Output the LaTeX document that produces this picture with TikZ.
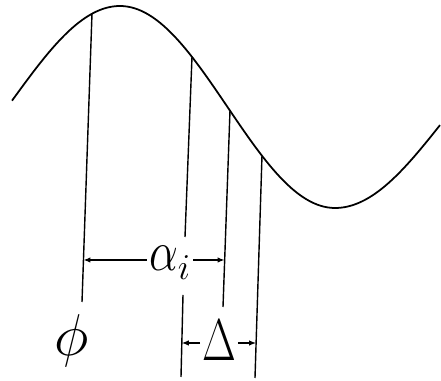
\documentclass[tikz,border=0pt]{standalone}
\usepackage{amsmath,amssymb}
\usepackage{graphicx}
\usepackage{tikz}
\usetikzlibrary{arrows.meta,positioning}
\tikzset{
  wave/.style={line width=1pt,black,samples=60},
  ext/.style={line width=0.8pt,black},
  dimar/.style={-{Latex[length=1.4mm,width=1.1mm]},line width=0.7pt},
  lbl/.style={font=\fontsize{24.88}{26}\selectfont,inner sep=1pt}
}

\begin{document}
\begin{tikzpicture}[x=0.02cm,y=-0.02cm]
\useasboundingbox (0,0) rectangle (441,381);
% the wave
\draw[wave] plot[domain=12:120] (\x,{6+94*(1-cos((\x-120)/215*180))})
  -- plot[domain=120:335] (\x,{107-101*cos((\x-120)/215*180)})
  -- plot[domain=335:440] (\x,{208-86*(1-cos((\x-335)/215*180))});
% feet on the wave and lower ends
\coordinate (t1) at (92,13.7);  \coordinate (b1) at (82,302);
\coordinate (t2) at (192,57);   \coordinate (g2) at (185,237);
\coordinate (h2) at (183,295);  \coordinate (b2) at (181,377);
\coordinate (t3) at (230,110.7); \coordinate (b3) at (223,307);
\coordinate (t4) at (262,155.8); \coordinate (b4) at (255,378);
\draw[ext] (t1) -- (b1);
\draw[ext] (t2) -- (g2) (h2) -- (b2);
\draw[ext] (t3) -- (b3);
\draw[ext] (t4) -- (b4);
% labels
\node[lbl] (al) at (170,263) {$\scalebox{1.05}[1.3]{$\alpha$}_i$};
\node[lbl] (ph) at (72,341) {\scalebox{1.35}{$\phi$}};
\node[lbl] (dl) at (219,340) {\scalebox{1}[1.35]{$\Delta$}};
% dimension arrows
\coordinate (a1) at (83.5,260); \coordinate (a3) at (224.5,260);
\coordinate (d2) at (181.8,343); \coordinate (d4) at (256.1,343);
\draw[dimar] (al.west |- a1) -- (a1);
\draw[dimar] (al.east |- a3) -- (a3);
\draw[dimar] (dl.west |- d2) -- (d2);
\draw[dimar] (dl.east |- d4) -- (d4);
\end{tikzpicture}
\end{document}
